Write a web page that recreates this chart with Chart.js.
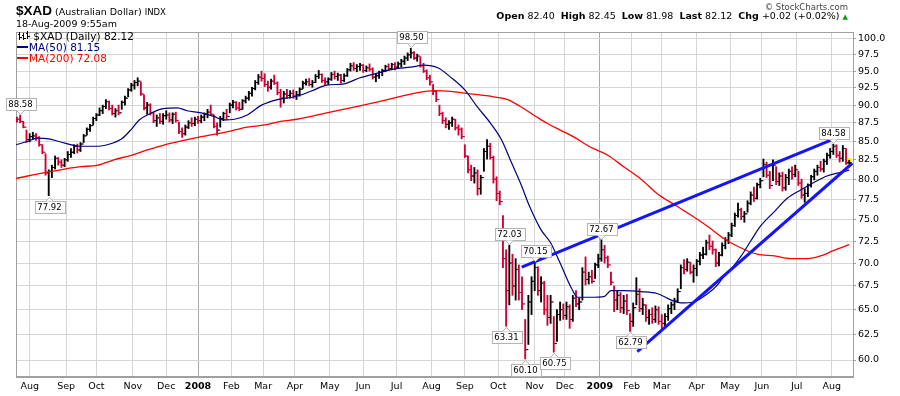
<!DOCTYPE html>
<html>
<head>
<meta charset="utf-8">
<script src="https://cdn.jsdelivr.net/npm/chart.js@4.4.1/dist/chart.umd.min.js"></script>
<style>
  body { margin: 0; background: #fff; width: 900px; height: 396px; overflow: hidden; position: relative; font-family: "DejaVu Sans", Verdana, sans-serif; }
  #chart { position: absolute; left: 0; top: 0; }
  .t { position: absolute; white-space: nowrap; }
  .dash { display: inline-block; width: 11px; height: 2px; vertical-align: 3px; margin-right: 1px; }
</style>
</head>
<body>
<canvas id="chart" width="900" height="396"></canvas>

<div class="t" style="left:16px;top:3px;line-height:14px"><span style="font:bold 13.5px 'Liberation Sans',Arial,sans-serif">$XAD</span><span style="font:9.5px 'DejaVu Sans'"> (Australian Dollar) </span><span style="font:8.5px 'DejaVu Sans'">INDX</span></div>
<div class="t" style="left:16px;top:18px;font:9.5px 'DejaVu Sans';line-height:12px">18-Aug-2009 9:55am</div>
<div class="t" style="right:52px;top:2px;font:8.5px 'DejaVu Sans';color:#444;line-height:11px">&copy; StockCharts.com</div>
<div class="t" style="right:52px;top:10px;font:9.5px 'DejaVu Sans';line-height:12px"><b>Open</b> 82.40 &nbsp;<b>High</b> 82.45 &nbsp;<b>Low</b> 81.98 &nbsp;<b>Last</b> 82.12 &nbsp;<b>Chg</b> +0.02 (+0.02%) <span style="color:#00a000;font-size:7px">&#9650;</span></div>

<div class="t" style="left:17px;top:30px;font:10.5px 'DejaVu Sans';line-height:12px"><svg width="13" height="10" style="vertical-align:-1px"><path d="M2.5 1v8M0.5 3h2M2.5 6h2M6.5 2v7M4.5 4h2M6.5 7h2M10.5 0v8M8.5 2h2M10.5 5h2" stroke="#000" stroke-width="1" fill="none" shape-rendering="crispEdges"/></svg> $XAD (Daily) 82.12</div>
<div class="t" style="left:17px;top:41px;font:10.5px 'DejaVu Sans';line-height:12px;color:#00007f"><span class="dash" style="background:#00007f"></span>MA(50) 81.15</div>
<div class="t" style="left:17px;top:52px;font:10.5px 'DejaVu Sans';line-height:12px;color:#ff0000"><span class="dash" style="background:#ff0000"></span>MA(200) 72.08</div>

<script>
// one bar every two trading days, day 0 = 20-Jul-2007
const barStep = 2;

const highs = [
    88.3, 88.58, 87.7, 86.5,                                                  // Jul 07
    86.0, 86.2, 86.0, 85.6, 84.5, 83.3, 81.2, 81.8, 83.0, 82.8, 82.5, 82.7,   // Aug
    83.6, 84.0, 84.5, 84.6, 84.8, 85.9, 86.8, 87.3, 88.3,                     // Sep
    88.8, 89.6, 90.0, 90.8, 90.6, 90.0, 89.5, 90.0, 90.6, 91.3, 92.4, 93.2,   // Oct
    93.6, 94.0, 93.4, 91.5, 90.4, 90.2, 89.0, 88.6, 88.8, 88.8,               // Nov
    89.2, 88.9, 88.9, 89.0, 87.6, 86.8, 87.2, 87.8, 88.2, 88.3,               // Dec
    88.4, 88.6, 88.9, 89.4, 90.0, 88.6, 87.5, 88.4, 89.0, 89.4, 90.3,         // Jan 08
    90.7, 90.5, 90.4, 90.8, 91.3, 92.0, 92.6, 93.6, 94.5, 95.0,               // Feb
    94.6, 93.5, 93.8, 94.4, 93.4, 92.3, 92.0, 92.3, 92.1, 92.2,               // Mar
    92.0, 92.5, 93.5, 93.8, 93.9, 93.6, 94.5, 95.1, 94.6, 94.0,               // Apr
    94.0, 94.8, 95.0, 94.7, 94.5, 94.6, 95.4, 96.2, 96.3, 96.0, 96.2,         // May
    96.0, 95.8, 96.1, 95.5, 94.6, 95.0, 95.3, 95.9, 96.1, 96.2,               // Jun
    96.3, 96.4, 96.8, 97.3, 97.8, 98.5, 98.0, 97.6, 97.2, 96.2, 95.2, 94.4,   // Jul
    93.0, 92.0, 90.0, 89.0, 88.2, 87.8, 88.3, 88.0, 87.2, 86.8,               // Aug
    84.5, 83.0, 81.8, 81.5, 81.2, 80.5, 84.0, 85.2, 84.7, 83.0, 80.3,         // Sep
    78.5, 75.5, 71.5, 72.03, 71.0, 70.5, 69.8, 68.5, 64.0, 66.5, 68.5,        // Oct
    70.15, 69.6, 68.5, 68.0, 66.5, 66.5, 64.3, 65.0, 65.8, 65.6,              // Nov
    65.8, 65.5, 66.5, 67.0, 66.2, 69.5, 70.7, 69.0, 69.2, 70.0, 71.0,         // Dec
    72.67, 72.0, 70.8, 69.0, 67.5, 67.0, 66.8, 66.5, 66.6, 64.6,              // Jan 09
    65.7, 68.4, 67.2, 66.2, 65.5, 65.0, 65.2, 65.4, 65.3,                     // Feb
    64.5, 64.6, 65.5, 65.8, 66.2, 67.2, 69.8, 70.4, 70.5, 70.1, 69.8,         // Mar
    70.4, 71.2, 71.8, 72.6, 73.2, 72.5, 71.6, 71.2, 72.3, 72.9,               // Apr
    73.5, 74.6, 75.8, 77.0, 76.4, 76.0, 77.3, 78.4, 79.0, 79.5, 80.1,         // May
    82.6, 82.2, 81.0, 82.5, 81.6, 80.8, 80.9, 80.6, 81.3, 81.6, 81.8,         // Jun
    81.0, 80.0, 78.8, 79.4, 80.5, 81.3, 81.8, 82.3, 82.6, 83.4,               // Jul
    84.0, 84.58, 84.5, 83.6, 84.4, 84.0, 82.45                                // Aug
];

const lows = [
    87.6, 87.5, 86.8, 84.8,
    84.9, 85.2, 85.1, 84.3, 83.3, 80.5, 77.92, 80.2, 81.3, 81.8, 81.5, 81.6,
    82.3, 82.8, 83.3, 83.4, 83.6, 84.8, 85.8, 86.3, 87.2,
    87.8, 88.5, 88.8, 89.5, 89.3, 88.6, 88.3, 88.6, 89.4, 90.0, 91.2, 92.0,
    92.3, 92.8, 91.4, 89.3, 88.7, 88.6, 87.5, 87.0, 87.4, 87.3,
    88.0, 87.6, 87.4, 87.6, 86.0, 85.5, 85.8, 86.7, 87.0, 87.1,
    87.4, 87.5, 87.8, 88.2, 88.5, 86.8, 85.8, 86.9, 87.8, 88.0, 88.9,
    89.6, 89.3, 89.2, 89.4, 90.3, 90.7, 91.3, 92.2, 93.0, 93.5,
    92.7, 92.0, 92.3, 93.0, 91.5, 89.7, 90.3, 91.0, 91.0, 91.0,
    90.8, 91.3, 92.4, 92.9, 92.8, 92.6, 93.3, 93.9, 93.3, 92.9,
    93.0, 93.6, 93.8, 93.6, 93.2, 93.4, 94.2, 95.0, 95.1, 94.9, 95.1,
    94.8, 94.9, 95.0, 93.8, 93.4, 93.9, 94.3, 94.9, 95.1, 95.2,
    95.2, 95.4, 95.6, 96.0, 96.6, 97.0, 96.8, 96.5, 95.6, 94.8, 93.7, 92.9,
    91.5, 90.5, 88.5, 87.4, 86.8, 86.6, 87.0, 86.5, 85.8, 85.3,
    82.8, 80.8, 79.8, 79.5, 78.0, 78.1, 81.0, 82.6, 82.6, 79.5, 77.3,
    76.8, 69.5, 63.31, 65.5, 66.5, 66.0, 66.0, 65.0, 60.10, 61.5, 64.5,
    67.0, 66.5, 65.8, 64.5, 63.4, 63.6, 60.75, 61.8, 63.9, 64.0,
    64.0, 63.1, 63.8, 65.3, 65.0, 66.0, 67.6, 67.7, 67.8, 68.3, 69.5,
    70.2, 70.0, 69.5, 67.6, 64.8, 65.0, 64.7, 64.6, 64.5, 62.79,
    63.3, 65.5, 64.8, 64.5, 63.8, 63.5, 63.6, 63.7, 63.5,
    63.0, 63.1, 63.9, 64.6, 65.0, 65.8, 67.2, 68.8, 69.1, 68.8, 67.9,
    68.6, 69.8, 70.5, 70.9, 71.5, 71.0, 69.6, 69.7, 70.8, 71.6,
    72.2, 73.0, 74.2, 75.3, 75.0, 74.7, 75.9, 76.8, 77.2, 77.5, 78.9,
    80.3, 80.2, 78.8, 79.8, 79.3, 79.2, 78.5, 78.6, 79.3, 80.0, 80.3,
    79.2, 77.6, 77.1, 77.8, 79.0, 79.9, 80.5, 81.0, 80.9, 81.9,
    82.7, 83.2, 82.8, 82.2, 82.3, 81.9, 81.98
];

const closes = [
    88.0, 87.7, 86.9, 85.2,
    85.6, 85.7, 85.4, 84.5, 83.5, 80.8, 81.0, 81.5, 82.7, 82.2, 81.8, 82.5,
    83.2, 83.5, 84.3, 83.8, 84.6, 85.7, 86.6, 87.1, 88.1,
    88.6, 89.2, 89.8, 90.5, 89.5, 88.8, 89.2, 88.9, 90.4, 91.0, 92.2, 92.9,
    93.3, 93.5, 91.6, 89.6, 90.0, 88.9, 87.8, 88.2, 87.7, 88.5,
    88.6, 87.9, 88.7, 87.8, 86.3, 86.0, 86.9, 87.5, 87.4, 88.0,
    87.8, 88.3, 88.7, 89.0, 88.7, 87.0, 86.5, 88.1, 88.8, 88.4, 90.0,
    90.4, 89.6, 89.4, 90.6, 91.0, 91.7, 92.4, 93.3, 94.1, 93.9,
    93.0, 92.6, 93.5, 93.2, 91.8, 91.0, 91.6, 91.4, 91.7, 91.3,
    91.5, 92.3, 93.2, 93.4, 93.0, 93.3, 94.2, 94.5, 93.6, 93.4,
    93.8, 94.5, 94.2, 94.4, 93.6, 94.3, 95.2, 95.8, 95.4, 95.7, 95.9,
    95.1, 95.5, 95.3, 94.1, 94.3, 94.8, 95.1, 95.7, 95.4, 96.0,
    95.6, 96.1, 96.5, 97.0, 97.5, 97.8, 97.0, 97.3, 95.8, 95.0, 94.0, 93.4,
    92.0, 90.8, 88.8, 87.8, 87.3, 87.5, 88.0, 86.8, 86.6, 85.6,
    83.0, 81.2, 80.4, 80.8, 78.8, 80.2, 83.6, 84.3, 82.8, 80.0, 78.2,
    77.2, 70.5, 67.0, 70.0, 67.5, 69.3, 66.8, 65.6, 61.0, 65.8, 68.0,
    69.5, 67.0, 67.8, 65.0, 64.2, 65.8, 61.6, 64.5, 65.0, 64.4,
    65.3, 64.0, 66.2, 65.6, 65.8, 69.0, 68.2, 68.5, 68.0, 69.8, 70.5,
    71.5, 70.6, 69.8, 67.9, 66.0, 66.5, 65.2, 65.9, 64.9, 63.8,
    65.2, 66.6, 65.1, 65.5, 64.2, 64.5, 64.0, 65.0, 63.8,
    63.6, 64.3, 65.1, 65.5, 65.9, 66.9, 69.5, 69.3, 70.1, 69.0, 69.4,
    70.2, 70.9, 71.0, 72.3, 71.9, 71.5, 70.0, 70.9, 72.0, 72.6,
    73.2, 74.3, 75.5, 76.2, 75.4, 75.7, 77.0, 78.0, 77.6, 79.3, 79.8,
    81.9, 80.5, 79.2, 81.8, 79.7, 80.4, 78.9, 80.2, 81.0, 80.6, 81.2,
    79.5, 78.0, 78.2, 79.2, 80.3, 81.0, 81.5, 81.3, 82.3, 83.1,
    83.6, 84.3, 83.1, 82.7, 84.0, 82.1, 82.12
];

// first trading day of each month (day index) and its label
const monthDays = [8, 31, 50, 73, 94, 114, 135, 155, 175, 197, 218, 239, 261, 282, 303, 326, 345, 367, 387, 406, 428, 449, 469, 491, 513];
const monthLabels = ['Aug', 'Sep', 'Oct', 'Nov', 'Dec', '2008', 'Feb', 'Mar', 'Apr', 'May', 'Jun', 'Jul',
                     'Aug', 'Sep', 'Oct', 'Nov', 'Dec', '2009', 'Feb', 'Mar', 'Apr', 'May', 'Jun', 'Jul', 'Aug'];
const priceTicks = [60, 62.5, 65, 67.5, 70, 72.5, 75, 77.5, 80, 82.5, 85, 87.5, 90, 92.5, 95, 97.5, 100];

// moving averages
const ma50Days = [-0.5, 6, 13, 20, 27, 40, 51, 60, 66, 72, 77, 84, 92, 101, 107, 116, 124, 130, 137, 145, 154, 164, 175, 185, 195,
                  206, 216, 227, 237, 248, 256, 265, 273, 282, 290, 298, 305, 311, 317, 323, 330, 336, 342, 349, 353, 361, 370,
                  374, 382, 393, 403, 412, 418, 426, 435, 441, 445, 450, 456, 462, 468, 477, 485, 494, 502, 510, 519, 524];
const ma50 = [84.5, 84.9, 85.4, 85.3, 84.9, 84.3, 84.3, 84.7, 85.3, 86.6, 87.9, 88.8, 89.5, 89.6, 89.2, 88.9, 88.4, 87.9, 88.0, 88.6,
              90.0, 90.8, 91.2, 92.0, 92.9, 93.1, 94.0, 94.7, 95.3, 95.6, 95.9, 95.5, 94.1, 92.2, 89.7, 87.5, 85.2, 82.3, 79.5,
              76.5, 73.8, 72.3, 70.0, 67.3, 66.3, 66.3, 66.4, 67.0, 67.0, 66.9, 66.7, 66.0, 65.7, 65.8, 66.7, 67.6, 68.5, 69.4,
              70.8, 72.5, 74.2, 76.0, 77.6, 78.7, 79.6, 80.4, 80.9, 81.15];
const ma200Days = [-0.5, 19, 30, 40, 51, 61, 72, 82, 93, 103, 114, 124, 135, 145, 156, 166, 176, 195, 216, 237, 250, 263, 273, 283,
                   300, 309, 317, 326, 334, 342, 351, 361, 372, 382, 393, 403, 414, 424, 435, 445, 456, 466, 477, 487, 498, 506, 514, 524];
const ma200 = [80.1, 80.9, 81.3, 81.6, 81.8, 82.5, 83.1, 83.8, 84.5, 85.0, 85.5, 85.9, 86.4, 86.9, 87.2, 87.7, 88.0, 88.9, 89.9,
               91.0, 91.7, 92.1, 92.0, 91.7, 91.2, 90.8, 89.8, 88.5, 87.4, 86.5, 85.5, 84.2, 83.1, 81.6, 80.0, 78.2, 76.8, 75.6,
               74.2, 72.8, 71.7, 71.0, 70.8, 70.5, 70.5, 70.8, 71.4, 72.08];

// hand drawn trendlines (end points)
const trendUpperDays = [317.8, 515.6];
const trendUpperVals = [69.55, 85.4];
const trendLowerDays = [390.6, 526];
const trendLowerVals = [60.8, 82.05];

// price labels on swing highs / lows
const calloutDays = [2, 20, 248, 308, 310, 320, 326, 338, 368, 386, 514];
const calloutPrices = [88.58, 77.92, 98.50, 63.31, 72.03, 60.10, 70.15, 60.75, 72.67, 62.79, 84.58];
const calloutAbove = [true, false, true, false, true, false, true, false, true, false, true];

const upColor = '#000000';
const downColor = '#cc0033';
const barColors = closes.map((c, k) => (k > 0 && c >= closes[k - 1]) ? upColor : downColor);
const pts = (days, vals) => days.map((d, k) => ({ x: d, y: vals[k] }));

const frame = {
    id: 'frame',
    beforeDatasetsDraw(chart) {
        const { ctx, chartArea: a } = chart;
        ctx.save();
        ctx.strokeStyle = '#a0a0a0';
        ctx.lineWidth = 1;
        ctx.strokeRect(a.left + 0.5, a.top + 0.5, a.right - a.left, a.bottom - a.top - 1);
        // highlight behind the latest bar
        const last = highs.length - 1;
        const lx = Math.round(chart.scales.x.getPixelForValue(last * barStep));
        const ty = Math.round(chart.scales.y.getPixelForValue(highs[last]));
        const by = Math.round(chart.scales.y.getPixelForValue(lows[last]));
        ctx.fillStyle = '#ffff00';
        ctx.fillRect(lx - 2, ty - 2, 5, by - ty + 4);
        ctx.restore();
    }
};

const callouts = {
    id: 'callouts',
    afterDatasetsDraw(chart) {
        const { ctx, scales: { x, y } } = chart;
        ctx.save();
        ctx.font = '8.5px "DejaVu Sans"';
        ctx.textAlign = 'center';
        ctx.textBaseline = 'middle';
        ctx.lineWidth = 1;
        calloutDays.forEach((d, k) => {
            const px = Math.round(x.getPixelForValue(d)) + 0.5;
            const py = Math.round(y.getPixelForValue(calloutPrices[k]));
            const label = calloutPrices[k].toFixed(2);
            const w = Math.ceil(ctx.measureText(label).width) + 5;
            const h = 12;
            const above = calloutAbove[k];
            const top = above ? py - 5 - h : py + 5;
            const left = Math.round(px - w / 2) + 0.5;
            ctx.fillStyle = '#ffffff';
            ctx.strokeStyle = '#b4b4b4';
            ctx.fillRect(left, top + 0.5, w, h);
            ctx.strokeRect(left, top + 0.5, w, h);
            ctx.beginPath();
            if (above) {
                ctx.moveTo(px - 4, top + h + 0.5);
                ctx.lineTo(px, top + h + 4.5);
                ctx.lineTo(px + 4, top + h + 0.5);
            } else {
                ctx.moveTo(px - 4, top + 0.5);
                ctx.lineTo(px, top - 3.5);
                ctx.lineTo(px + 4, top + 0.5);
            }
            ctx.fill();
            ctx.stroke();
            ctx.fillStyle = '#000';
            ctx.fillText(label, px, top + h / 2 + 1);
        });
        ctx.restore();
    }
};

Chart.defaults.font.family = "'DejaVu Sans', Verdana, sans-serif";

new Chart(document.getElementById('chart'), {
    type: 'bar',
    data: {
        datasets: [
            {
                type: 'line', data: pts(trendUpperDays, trendUpperVals),
                borderColor: '#1414ff', borderWidth: 3, pointRadius: 0, order: 0
            },
            {
                type: 'line', data: pts(trendLowerDays, trendLowerVals),
                borderColor: '#1414ff', borderWidth: 3, pointRadius: 0, order: 0
            },
            {
                type: 'line', data: pts(ma50Days, ma50),
                borderColor: '#00007f', borderWidth: 1.2, pointRadius: 0,
                cubicInterpolationMode: 'monotone', order: 1
            },
            {
                type: 'line', data: pts(ma200Days, ma200),
                borderColor: '#ff0000', borderWidth: 1.3, pointRadius: 0,
                cubicInterpolationMode: 'monotone', order: 1
            },
            {
                type: 'bar',
                data: highs.map((hi, k) => ({ x: k * barStep, y: [lows[k], hi] })),
                backgroundColor: barColors, barThickness: 1.2, grouped: false, order: 2
            },
            {
                // open tick (previous close)
                type: 'line', showLine: false,
                data: closes.map((c, k) => ({ x: k * barStep - 0.7, y: k ? closes[k - 1] : c })),
                pointStyle: 'line', pointRadius: 1.1, pointBorderWidth: 1,
                pointBorderColor: barColors, order: 2
            },
            {
                // close tick
                type: 'line', showLine: false,
                data: closes.map((c, k) => ({ x: k * barStep + 0.7, y: c })),
                pointStyle: 'line', pointRadius: 1.1, pointBorderWidth: 1,
                pointBorderColor: barColors, order: 2
            }
        ]
    },
    options: {
        responsive: false,
        animation: false,
        devicePixelRatio: 1,
        events: [],
        layout: { padding: { left: 16, top: 32, right: 0, bottom: 0 } },
        plugins: { legend: { display: false }, tooltip: { enabled: false } },
        scales: {
            x: {
                type: 'linear',
                min: -0.6,
                max: 526.4,
                offset: false,
                afterBuildTicks: (s) => { s.ticks = monthDays.map(v => ({ value: v })); },
                afterFit: (s) => { s.height = 19; },
                grid: {
                    offset: false,
                    drawTicks: false,
                    color: (c) => (monthLabels[c.index] || '').length === 4 ? '#a8a8a8' : '#d6d6d6'
                },
                border: { color: '#a0a0a0' },
                ticks: {
                    autoSkip: false, maxRotation: 0, minRotation: 0, padding: 4, color: '#000',
                    font: (c) => ({ size: 9.5, weight: (monthLabels[c.index] || '').length === 4 ? 'bold' : 'normal' }),
                    callback: (v, i) => monthLabels[i]
                }
            },
            y: {
                type: 'logarithmic',
                position: 'right',
                min: 58.4,
                max: 101.1,
                beginAtZero: false,
                afterBuildTicks: (s) => { s.ticks = priceTicks.map(v => ({ value: v })); },
                afterFit: (s) => { s.width = 47; },
                grid: { color: '#d6d6d6', tickLength: 3, tickColor: '#a0a0a0' },
                border: { color: '#a0a0a0' },
                ticks: {
                    padding: 2, color: '#000', font: { size: 9.5 },
                    callback: (v) => Number(v).toFixed(1)
                }
            }
        }
    },
    plugins: [frame, callouts]
});
</script>
</body>
</html>
